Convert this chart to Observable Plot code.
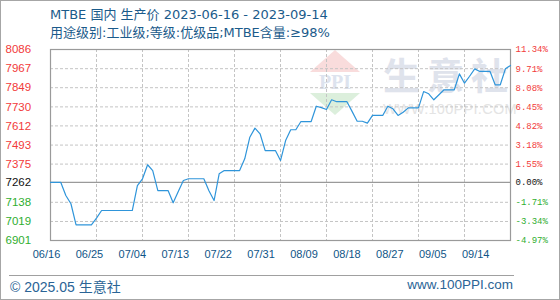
<!DOCTYPE html>
<html><head><meta charset="utf-8">
<script src="https://cdn.jsdelivr.net/npm/d3@7"></script>
<script src="https://cdn.jsdelivr.net/npm/@observablehq/plot@0.6"></script>
<style>
body{margin:0;background:#fff;}
#wrap{position:relative;width:560px;height:300px;overflow:hidden;font-family:"DejaVu Sans","Noto Sans CJK SC",sans-serif;background:#fff;}
#border{position:absolute;left:0;top:0;width:560px;height:300px;box-sizing:border-box;border:1px solid #a6a6a6;pointer-events:none;z-index:5;}
#head{height:40px;position:relative;}
.t{position:absolute;left:50px;font-size:13px;color:#1b5b8b;white-space:nowrap;line-height:16px;}
#chart{position:relative;z-index:2;height:235px;}
#chart svg{background:transparent !important;}
#foot{position:relative;height:25px;}
#foot .line{position:absolute;left:9px;width:505px;top:0;border-top:1px solid #a0a0a0;}
#foot .l{position:absolute;left:10px;top:1px;font-family:"Liberation Sans","Noto Sans CJK SC",sans-serif;font-size:14px;color:#2a6496;}
#foot .r{position:absolute;right:47px;top:2px;font-family:"Liberation Sans",sans-serif;font-size:13.5px;color:#2a6496;}
#wm{position:absolute;left:0;top:0;width:560px;height:300px;z-index:1;}
#wm .logo{position:absolute;left:310px;top:50px;width:50px;height:66px;}
#wm .tri1{position:absolute;left:0;top:0;width:0;height:0;border-left:25px solid transparent;border-right:25px solid transparent;border-bottom:22px solid #f9dcdc;}
#wm .tri2{position:absolute;left:0;top:43px;width:0;height:0;border-left:25px solid transparent;border-right:25px solid transparent;border-top:22px solid #dcefdc;}
#wm .ppi{position:absolute;left:0;top:22px;width:50px;text-align:center;font-family:"Liberation Serif",serif;font-weight:bold;font-size:20px;color:#dde3ee;line-height:21px;}
#wm .box{position:absolute;left:372px;top:53px;width:138px;height:46px;background:#fff;}
#wm .sys{position:absolute;left:383px;top:52px;font-family:"Noto Sans CJK SC",sans-serif;font-size:37px;letter-spacing:7px;color:#dfe3ec;line-height:44px;font-weight:bold;}
#wm .url{position:absolute;left:383px;top:101px;font-family:"Liberation Sans",sans-serif;font-size:14.5px;color:#e4e4e4;letter-spacing:0.3px;}
</style>
</head><body>
<div id="wrap">
  <div id="wm"><div class="box"></div><div class="logo"><div class="tri1"></div><div class="ppi">PPI</div><div class="tri2"></div></div><div class="sys">生意社</div><div class="url">WWW.100PPI.COM</div></div>
  <div id="head">
    <div class="t" style="top:7px">MTBE 国内 生产价 2023-06-16 - 2023-09-14</div>
    <div class="t" style="top:25px">用途级别:工业级;等级:优级品;MTBE含量:≥98%</div>
  </div>
  <div id="chart"></div>
  <div id="foot"><div class="line"></div><div class="l">© 2025.05 生意社</div><div class="r">www.100PPI.com</div></div>
  <div id="border"></div>
</div>
<script>
// ---- data ----
const dates = ["2023-06-16","2023-06-18","2023-06-19","2023-06-20","2023-06-21","2023-06-24","2023-06-25","2023-06-26",
"2023-07-02","2023-07-03","2023-07-04","2023-07-05","2023-07-06","2023-07-07","2023-07-09","2023-07-10","2023-07-11",
"2023-07-12","2023-07-13","2023-07-16","2023-07-17","2023-07-18","2023-07-19","2023-07-20","2023-07-23","2023-07-24",
"2023-07-25","2023-07-26","2023-07-27","2023-07-28","2023-07-30","2023-07-31","2023-08-01","2023-08-02","2023-08-03",
"2023-08-04","2023-08-06","2023-08-07","2023-08-08","2023-08-09","2023-08-10","2023-08-11","2023-08-13","2023-08-14",
"2023-08-15","2023-08-16","2023-08-17","2023-08-18","2023-08-20","2023-08-21","2023-08-22","2023-08-23","2023-08-24",
"2023-08-25","2023-08-27","2023-08-28","2023-08-29","2023-08-30","2023-08-31","2023-09-01","2023-09-03","2023-09-04",
"2023-09-05","2023-09-06","2023-09-07","2023-09-08","2023-09-10","2023-09-11","2023-09-12","2023-09-13","2023-09-14"];
const prices = [7262,7262,7180,7129,6998,6998,7040,7087,
7087,7242,7284,7371,7335,7211,7211,7135,7205,
7273,7284,7284,7210,7149,7315,7335,7335,7408,
7542,7598,7563,7459,7459,7397,7521,7588,7588,
7639,7639,7734,7725,7714,7774,7762,7762,7702,
7641,7641,7629,7677,7677,7734,7718,7677,7697,
7724,7724,7825,7811,7774,7805,7836,7836,7935,
7877,7920,7966,7950,7950,7867,7867,7966,7987];
const basePrice = 7262;
const leftTicks = [8086,7967,7849,7730,7612,7493,7375,7262,7138,7019,6901];
const rightLabels = ["11.34%","9.71%","8.08%","6.45%","4.82%","3.18%","1.55%","0.00%","-1.71%","-3.34%","-4.97%"];
const gridDates = ["2023-06-16","2023-06-25","2023-07-04","2023-07-13","2023-07-22","2023-07-31","2023-08-09","2023-08-18","2023-08-27","2023-09-05","2023-09-14"];
const xLabels = ["06/16","06/25","07/04","07/13","07/22","07/31","08/09","08/18","08/27","09/05","09/14"];

// ---- build ----
const parse = d3.utcParse("%Y-%m-%d");
const data = dates.map((d, i) => ({date: parse(d), price: prices[i]}));
const gd = gridDates.map(parse);
const start = gd[0], end = gd[gd.length - 1];
const span = end - start;
// the source spaces its date labels a little tighter than its grid
const labelPos = (i) => new Date(+start + span * (i * 0.0933 - 0.0087));
const tickColor = (v) => v > basePrice ? "#f23a3a" : v < basePrice ? "#2fae2f" : "#111111";
const font = "Liberation Sans, Arial, sans-serif";

const plot = Plot.plot({
  width: 560, height: 235,
  marginTop: 9, marginBottom: 35, marginLeft: 50, marginRight: 50,
  style: {background: "transparent", overflow: "visible"},
  x: {type: "utc", domain: [start, end], axis: null},
  y: {domain: [6901, 8086], axis: null},
  marks: [
    Plot.ruleY(leftTicks.filter(v => v !== basePrice && v !== 8086 && v !== 6901), {stroke: "#c4c4c4", strokeDasharray: "3,2"}),
    Plot.ruleX(gd.slice(1, -1), {stroke: "#c4c4c4", strokeDasharray: "3,2"}),
    Plot.ruleY([basePrice], {stroke: "#9a9a9a", strokeWidth: 1.2}),
    Plot.frame({stroke: "#9a9a9a", strokeWidth: 1.2}),
    Plot.line(data, {x: "date", y: "price", stroke: "#2f95da", strokeWidth: 1.2}),
    Plot.text(leftTicks, {y: d => d, text: d => String(d), frameAnchor: "left", dx: -45, textAnchor: "start",
      fill: d => tickColor(d), fontSize: 11.5, fontFamily: font}),
    Plot.text(rightLabels, {y: (d, i) => leftTicks[i], text: d => d, frameAnchor: "right", dx: 5, textAnchor: "start",
      fill: (d, i) => tickColor(leftTicks[i]), fontSize: 9, fontFamily: "Liberation Mono, monospace", letterSpacing: "-0.5px"}),
    Plot.text(xLabels, {x: (d, i) => labelPos(i), text: d => d, frameAnchor: "bottom", dy: 17,
      fill: "#0f5587", fontSize: 11, fontFamily: font})
  ]
});
document.getElementById("chart").appendChild(plot);
</script>
</body></html>
